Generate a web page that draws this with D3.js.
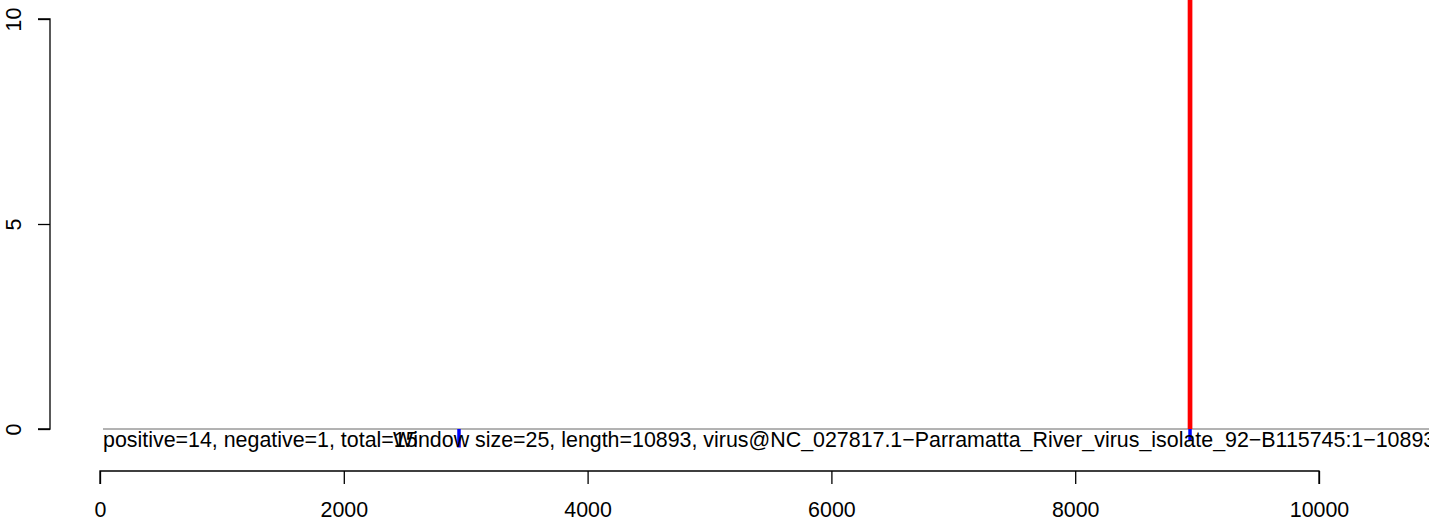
<!DOCTYPE html>
<html><head><meta charset="utf-8">
<script src="https://cdn.jsdelivr.net/npm/d3@7"></script>
<style>body{margin:0;background:#fff}svg{display:block}text{font-family:"Liberation Sans",Arial,sans-serif}</style>
</head><body>
<script>
const xTicks = [0, 2000, 4000, 6000, 8000, 10000];
const yTicks = [0, 5, 10];
const posPositions = [8942];
const posValues = [14];
const negPositions = [2945, 8942];
const negValues = [-0.45, -0.28];
const leftLabel = "positive=14, negative=1, total=15";
const rightLabel = "Window size=25, length=10893, virus@NC_027817.1\u2212Parramatta_River_virus_isolate_92\u2212B115745:1\u221210893";

const W = 1429, H = 522, FS = 21.4;
const svg = d3.select("body").append("svg").attr("width", W).attr("height", H);
const x = d3.scaleLinear().domain([0, 10000]).range([100, 1319]);
const y = d3.scaleLinear().domain([0, 10]).range([429, 19]);

svg.append("defs").append("clipPath").attr("id","clip")
  .append("rect").attr("x",0).attr("y",0).attr("width",W).attr("height",H);

// baseline grey line
svg.append("line").attr("x1", 103).attr("x2", W).attr("y1", y(0)).attr("y2", y(0))
  .attr("stroke", "#666").attr("stroke-width", 1);

const g = svg.append("g").attr("clip-path","url(#clip)");
g.selectAll("line.pos").data(posPositions).join("line").attr("class","pos")
  .attr("x1", d => x(d)).attr("x2", d => x(d))
  .attr("y1", y(0)).attr("y2", (d,i) => y(posValues[i]))
  .attr("stroke", "#ff0000").attr("stroke-width", 4.7);

svg.append("text").attr("x", 103).attr("y", 447).attr("font-size", FS).text(leftLabel);
svg.append("text").attr("x", 393).attr("y", 447).attr("font-size", FS).text(rightLabel);

g.selectAll("line.neg").data(negPositions).join("line").attr("class","neg")
  .attr("x1", d => x(d)).attr("x2", d => x(d))
  .attr("y1", y(0)).attr("y2", (d,i) => y(negValues[i]))
  .attr("stroke", "#0000ff").attr("stroke-width", 3.5);

// x axis
const xa = svg.append("g").attr("transform", "translate(0,471)")
  .call(d3.axisBottom(x).tickValues(xTicks).tickFormat(d3.format("d")).tickSize(13).tickPadding(18));
xa.select(".domain").attr("d", `M${x(0)},13V0H${x(10000)}V13`).attr("stroke","#000").attr("stroke-width",1.3);
xa.selectAll(".tick line").attr("stroke","#000").attr("stroke-width",1.3);
xa.selectAll(".tick text").attr("font-size", FS).attr("fill","#000").attr("font-family","Liberation Sans, Arial, sans-serif");

// y axis
const ya = svg.append("g").attr("transform", "translate(50,0)")
  .call(d3.axisLeft(y).tickValues(yTicks).tickSize(12).tickPadding(0));
ya.select(".domain").attr("d", `M-12,${y(10)}H0V${y(0)}H-12`).attr("stroke","#000").attr("stroke-width",1.3);
ya.selectAll(".tick line").attr("stroke","#000").attr("stroke-width",1.3);
ya.selectAll(".tick text").attr("font-size", FS).attr("fill","#000").attr("font-family","Liberation Sans, Arial, sans-serif")
  .attr("x", null).attr("dy", null)
  .attr("text-anchor","middle")
  .attr("transform", "translate(-37,0) rotate(-90)")
  .attr("dy", "0.35em");
</script>
</body></html>
